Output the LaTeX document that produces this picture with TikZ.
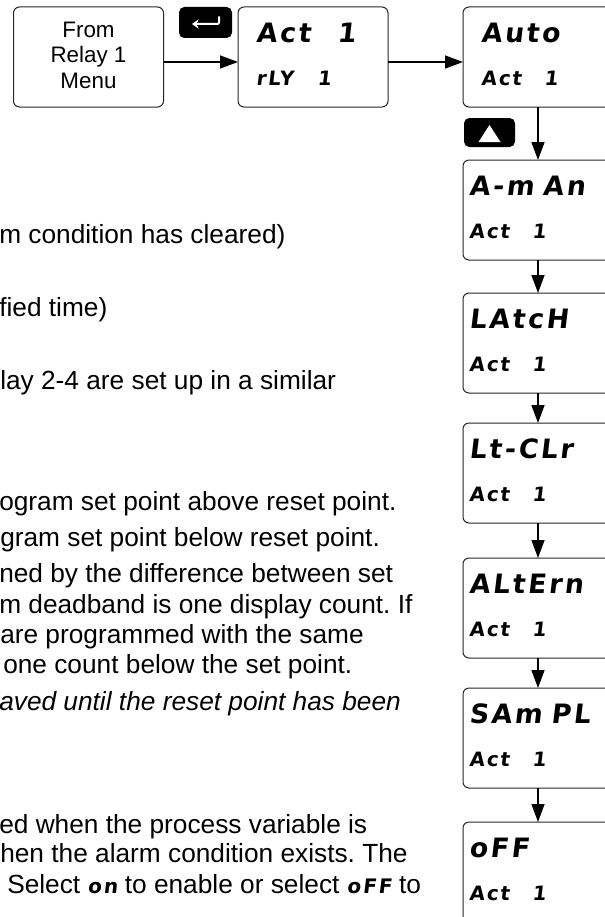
\documentclass[tikz,border=0pt]{standalone}
\usepackage{fontspec}
\setmainfont[Ligatures=NoCommon]{Liberation Sans}
\newfontfamily\lcd[LetterSpace=10,FakeSlant=0.12]{DejaVu Sans}
\usetikzlibrary{arrows.meta,calc}
\frenchspacing

\tikzset{
  box/.style={draw=black!85,line width=0.75pt,rounded corners=4.5pt,
    minimum width=112.5pt,minimum height=75pt,inner sep=0pt,outer sep=0pt},
  lcdbox/.style={box,anchor=north,align=left,text width=103.5pt,inner xsep=4.5pt,
    font=\lcd\bfseries\fontsize{20}{32.25}\selectfont},
  lcdboxin/.style={lcdbox,text width=85.5pt,inner xsep=13.5pt},
  arr/.style={line width=1.1pt,-{Triangle[length=13.5pt,width=9.75pt]}},
  key/.style={fill=black,rounded corners=4pt,inner sep=0pt,outer sep=0pt},
  txt/.style={anchor=base west,inner sep=0pt,font=\fontsize{19.7}{22}\selectfont}
}
\newcommand{\lcdsub}[1]{{\fontsize{14.8}{32.25}\selectfont #1}\rule[-4.5pt]{0pt}{4.5pt}}
\newcommand{\lcdin}[1]{{\lcd\bfseries\fontsize{15}{22}\selectfont #1}}

\begin{document}
\begin{tikzpicture}[x=0.75pt,y=-0.75pt]
  \useasboundingbox (0,0) rectangle (605,917);
  \clip (0,0) rectangle (605,917);
  % top row
  \node[box,align=center,font=\fontsize{16.8}{19.1}\selectfont] (from) at (88.5,57)
    {From\\Relay 1\\Menu\rule[-3pt]{0pt}{3pt}};
  \node[lcdboxin,anchor=center] (act) at (313,57)
    {Act\hspace{20pt}1\\\lcdsub{rLY\hspace{18pt}1}};
  \node[lcdboxin] (auto) at (538,7) {Auto\\\lcdsub{Act\hspace{17pt}1}};
  \draw[arr] ($(from.east)+(0,5)$) -- ($(act.west)+(0,5)$);
  \draw[arr] ($(act.east)+(0,5)$) -- ($(auto.west)+(0,5)$);
  % enter key
  \node[key,minimum width=39.75pt,minimum height=23.25pt] (enter) at (205.5,22.5) {};
  \draw[white,line width=1.5pt,rounded corners=1pt,-{Stealth[length=5pt,width=7pt]}]
    ($(enter.center)+(13.5,-6)$) -- ++(0,7.5) -- ++(-27,0);
  % up key
  \node[key,minimum width=38.25pt,minimum height=21.75pt] (up) at (489.5,132.5) {};
  \fill[white] ($(up.center)+(-11,9.5)$) -- ++(22,0) -- ++(-11,-17) -- cycle;
  % action choices
  \foreach \n/\t/\s in {aman/160/A-m An,latch/293/LAtcH,ltclr/423/Lt-CLr,
      altern/558/ALtErn,sampl/688/SAm PL,off/822/oFF}
    \node[lcdbox] (\n) at (538,\t) {\s\\\lcdsub{Act\hspace{17pt}1}};
  \foreach \a/\b in {auto/aman,aman/latch,latch/ltclr,ltclr/altern,altern/sampl,sampl/off}
    \draw[arr] (\a) -- (\b);
  % text on the left
  \node[txt] (t1) at (-1,243) {m condition has cleared)};
  \node[txt] (t2) at (-1,316) {fied time)};
  \node[txt] (t3) at (0,389) {lay 2-4 are set up in a similar};
  \node[txt] (t4) at (-1,510) {ogram set point above reset point.};
  \node[txt] (t5) at (0,546) {gram set point below reset point.};
  \node[txt] (t6) at (-1,582) {ned by the difference between set};
  \node[txt] (t7) at (-1,613) {m deadband is one display count. If};
  \node[txt] (t8) at (0,643) {are programmed with the same};
  \node[txt] (t9) at (3,673) {one count below the set point.};
  \node[txt,font=\fontsize{19.7}{22}\selectfont\itshape] (t10) at (-1,710)
    {aved until the reset point has been};
  \node[txt] (t11) at (-1,833) {ed when the process variable is};
  \node[txt] (t12) at (0,862) {hen the alarm condition exists. The};
  \node[txt] (t13) at (7,893) {Select \lcdin{on} to enable or select \lcdin{oFF} to};
\end{tikzpicture}
\end{document}
